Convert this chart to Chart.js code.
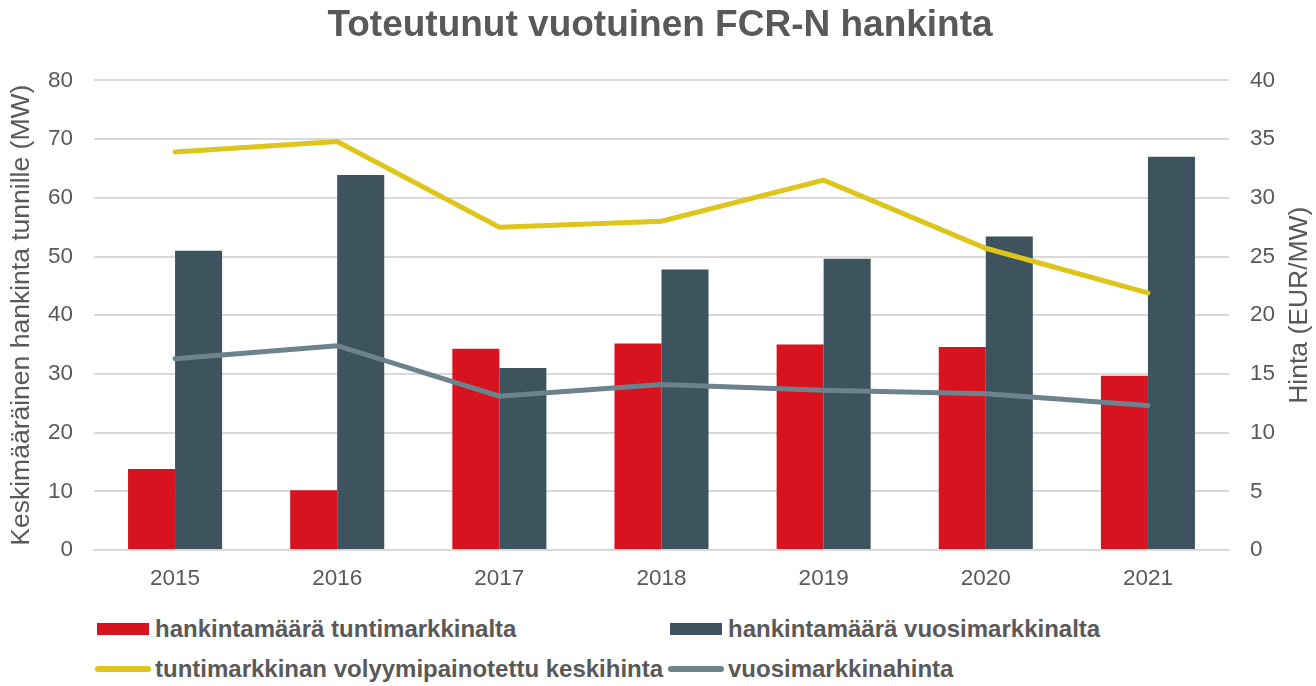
<!DOCTYPE html>
<html>
<head>
<meta charset="utf-8">
<script src="https://cdn.jsdelivr.net/npm/chart.js@4"></script>
<style>
  body { margin: 0; background: #fff; font-family: 'Liberation Sans', Arial, sans-serif; }
  #wrap { position: relative; width: 1316px; height: 686px; }
  #chart { position: absolute; left: 0; top: 0; }
  .legend-item { position: absolute; display: flex; align-items: center; font-weight: bold; font-size: 24px; color: #595959; white-space: nowrap; }
  .legend-box { width: 52px; height: 12px; margin-right: 6px; }
  .legend-line { width: 56px; height: 6px; border-radius: 3px; margin-right: 4px; }
</style>
</head>
<body>
<div id="wrap">
  <canvas id="chart" width="1316" height="599"></canvas>
  <div id="legend"></div>
</div>
<script>
const years = ['2015', '2016', '2017', '2018', '2019', '2020', '2021'];
const hourlyVolume = [13.8, 10.2, 34.3, 35.2, 35.0, 34.6, 29.7];
const yearlyVolume = [51.0, 63.9, 31.0, 47.8, 49.6, 53.4, 67.0];
const hourlyPrice = [33.9, 34.8, 27.5, 28.0, 31.5, 25.7, 21.9];
const yearlyPrice = [16.3, 17.4, 13.1, 14.1, 13.6, 13.3, 12.3];

const RED = '#d7131f';
const DARK = '#3d535d';
const YELLOW = '#dec51c';
const GRAY = '#6c828d';
const TEXT = '#595959';
const FONT = "'Liberation Sans', Arial, sans-serif";

Chart.defaults.font.family = FONT;
Chart.defaults.color = TEXT;

// right axis title reads bottom-to-top like the left one
const rightTitle = {
  id: 'rightTitle',
  afterDraw(chart) {
    const c = chart.ctx;
    const area = chart.chartArea;
    c.save();
    c.translate(1307, (area.top + area.bottom) / 2 - 10);
    c.rotate(-Math.PI / 2);
    c.font = '26.5px ' + FONT;
    c.fillStyle = TEXT;
    c.textAlign = 'center';
    c.textBaseline = 'alphabetic';
    c.fillText('Hinta (EUR/MW)', 0, 0);
    c.restore();
  }
};

const ctx = document.getElementById('chart');
new Chart(ctx, {
  type: 'bar',
  data: {
    labels: years,
    datasets: [
      { type: 'line', label: 'tuntimarkkinan volyymipainotettu keskihinta', data: hourlyPrice, yAxisID: 'y2',
        borderColor: YELLOW, borderWidth: 5, pointRadius: 0, tension: 0, order: 0, borderCapStyle: 'round' },
      { type: 'line', label: 'vuosimarkkinahinta', data: yearlyPrice, yAxisID: 'y2',
        borderColor: GRAY, borderWidth: 5, pointRadius: 0, tension: 0, order: 0, borderCapStyle: 'round' },
      { label: 'hankintamäärä tuntimarkkinalta', data: hourlyVolume, backgroundColor: RED, yAxisID: 'y',
        categoryPercentage: 0.58, barPercentage: 1, order: 1 },
      { label: 'hankintamäärä vuosimarkkinalta', data: yearlyVolume, backgroundColor: DARK, yAxisID: 'y',
        categoryPercentage: 0.58, barPercentage: 1, order: 1 }
    ]
  },
  options: {
    responsive: false,
    animation: false,
    layout: { padding: { left: 4, right: 0, top: 0, bottom: 0 } },
    plugins: {
      legend: { display: false },
      tooltip: { enabled: false },
      title: {
        display: true,
        text: 'Toteutunut vuotuinen FCR-N hankinta',
        font: { size: 37, weight: 'bold' },
        color: TEXT,
        padding: { top: 4, bottom: 32 }
      }
    },
    scales: {
      x: {
        grid: { display: false },
        border: { color: '#d9d9d9', width: 2 },
        ticks: { font: { size: 22.5 }, color: TEXT, padding: 7 }
      },
      y: {
        position: 'left',
        min: 0, max: 80,
        afterFit: scale => { scale.width = 90; },
        ticks: { stepSize: 10, font: { size: 22.5 }, color: TEXT, padding: 21 },
        grid: { color: '#d9d9d9', lineWidth: 2, drawTicks: false },
        border: { display: false },
        title: { display: true, text: 'Keskimääräinen hankinta tunnille (MW)', font: { size: 26.5 }, color: TEXT, padding: 2 }
      },
      y2: {
        position: 'right',
        min: 0, max: 40,
        afterFit: scale => { scale.width = 87; },
        ticks: { stepSize: 5, font: { size: 22.5 }, color: TEXT, padding: 21 },
        grid: { display: false, drawTicks: false },
        border: { display: false }
      }
    }
  },
  plugins: [rightTitle]
});

// HTML legend in two columns
const legendItems = [
  { text: 'hankintamäärä tuntimarkkinalta', color: RED, kind: 'box', x: 97, y: 615 },
  { text: 'hankintamäärä vuosimarkkinalta', color: DARK, kind: 'box', x: 670, y: 615 },
  { text: 'tuntimarkkinan volyymipainotettu keskihinta', color: YELLOW, kind: 'line', x: 95, y: 655 },
  { text: 'vuosimarkkinahinta', color: GRAY, kind: 'line', x: 668, y: 655 }
];
document.getElementById('legend').innerHTML = legendItems.map(item => `
  <div class="legend-item" style="left:${item.x}px; top:${item.y}px;">
    <div class="legend-${item.kind}" style="background:${item.color}"></div>
    <span>${item.text}</span>
  </div>`).join('');
</script>
</body>
</html>
